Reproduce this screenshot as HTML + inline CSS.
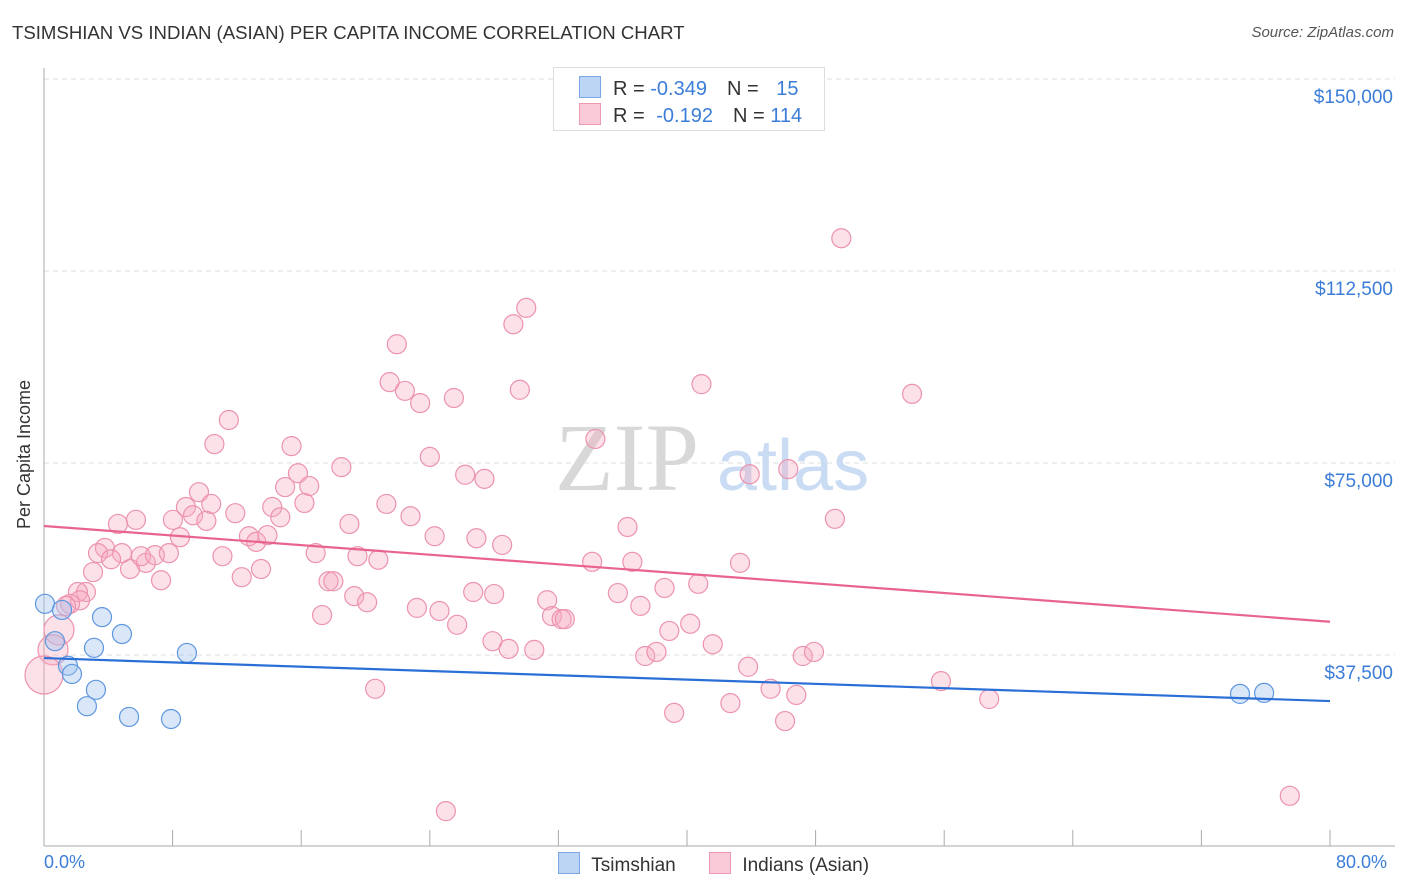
<!DOCTYPE html>
<html><head><meta charset="utf-8"><style>
body{margin:0;background:#fff;font-family:"Liberation Sans",sans-serif;}
#wrap{position:relative;width:1406px;height:892px;overflow:hidden;}
.t{position:absolute;white-space:nowrap;}
</style></head><body>
<div id="wrap">
<div class="t" style="left:12px;top:22px;font-size:18.6px;color:#333;">TSIMSHIAN VS INDIAN (ASIAN) PER CAPITA INCOME CORRELATION CHART</div>
<div class="t" style="right:12px;top:24px;font-size:15px;color:#555;font-style:italic;">Source: ZipAtlas.com</div>
<svg id="svg" width="1406" height="892" style="position:absolute;left:0;top:0"></svg>
</div>
<script>
const xTickVals=[0,8,16,24,32,40,48,56,64,72,80];
const yTickVals=[37.5,75,112.5,150];
const yTickLabels=["$37,500","$75,000","$112,500","$150,000"];
const blueX=[0.06,1.12,0.68,1.49,1.74,3.61,4.85,3.11,3.23,2.67,5.29,7.90,8.89,74.4,75.9];
const blueY=[47.5,46.3,40.2,35.4,33.8,44.9,41.6,38.9,30.7,27.5,25.4,25.0,37.9,29.9,30.1];
const pinkX=[49.6,30.0,29.2,21.95,21.5,22.45,23.4,25.5,29.6,40.9,54.0,11.5,10.6,15.4,24.0,34.3,18.5,15.8,26.2,27.4,43.9,46.3,9.64,16.5,15.0,8.83,10.4,9.27,10.1,11.9,14.2,16.2,21.3,22.8,19.0,14.7,8.02,5.72,4.60,8.46,12.75,13.2,13.9,24.3,26.9,28.5,36.3,49.2,3.79,3.36,4.85,4.17,5.35,3.05,6.34,6.03,6.90,7.77,11.1,13.5,16.9,19.5,20.8,34.1,36.6,43.3,7.28,12.3,17.7,18.0,38.6,40.7,2.61,2.11,2.24,1.62,1.37,19.3,20.1,26.7,28.0,31.3,35.7,37.1,23.2,24.6,17.3,25.7,31.6,32.2,32.4,40.2,38.9,27.9,28.9,30.5,41.6,37.4,38.1,47.2,47.9,43.8,45.2,46.8,20.6,55.8,58.8,39.2,42.7,46.1,25.0,77.5,0.93,0.56,0.0];
const pinkY=[118.9,105.3,102.1,98.2,90.8,89.1,86.7,87.7,89.3,90.4,88.5,83.4,78.7,78.3,76.2,79.7,74.2,73.0,72.7,71.9,72.8,73.8,69.3,70.5,70.3,66.4,67.0,64.8,63.7,65.2,66.4,67.2,67.0,64.6,63.1,64.4,63.9,63.9,63.1,60.5,60.7,59.6,60.9,60.7,60.3,59.0,62.5,64.1,58.4,57.4,57.4,56.2,54.3,53.7,55.5,56.8,57.0,57.4,56.8,54.3,57.4,56.8,56.1,55.7,55.7,55.5,52.1,52.7,51.9,51.9,50.6,51.4,49.8,49.8,48.2,47.5,47.1,49.0,47.8,49.8,49.4,48.2,49.6,47.1,46.7,46.1,45.3,43.4,45.1,44.5,44.5,43.6,42.2,40.2,38.7,38.5,39.6,37.3,38.1,37.3,38.1,35.2,30.9,29.7,30.9,32.4,28.9,26.2,28.1,24.6,7.0,10.0,42.4,38.5,33.6];
const pinkSize=pinkX.map((v,i)=>i>=112?(i===114?19:15):9.5);
const trendX=[0,80];
const blueTrend=[36.9,28.5];
const pinkTrend=[62.7,44.0];

const X0=44,X1=1330,YB=847,PX=192/37.5;
const sx=v=>X0+(X1-X0)*v/80;
const sy=v=>YB-v*PX;
const svg=document.getElementById('svg');
const NS='http://www.w3.org/2000/svg';
function mk(tag,at){const e=document.createElementNS(NS,tag);for(const k in at)e.setAttribute(k,at[k]);svg.appendChild(e);return e;}
yTickVals.forEach((v,i)=>{
 const g=mk('line',{x1:X0,x2:1395,y1:sy(v),y2:sy(v),stroke:'#ddd','stroke-dasharray':'5,4'});
 
 
 const t=mk('text',{x:1393,y:sy(v)+24,'text-anchor':'end','font-size':19,fill:'#3b7dd8','font-family':'Liberation Sans'});
 t.textContent=yTickLabels[i];
 
 
});
const ax=mk('line',{x1:X0,x2:X0,y1:68,y2:846,stroke:'#aaa'});


const bx=mk('line',{x1:X0,x2:1395,y1:846,y2:846,stroke:'#aaa'});


xTickVals.forEach(v=>{
 const l=mk('line',{x1:sx(v),x2:sx(v),y1:830,y2:846,stroke:'#aaa'});
 
 
});
const wm=mk('text',{x:555,y:490,'font-size':96,fill:'#d8d8d8','font-family':'Liberation Serif'});
wm.textContent='ZIP';


const wm2=mk('text',{x:717,y:490,'font-size':72,fill:'#c9dcf3','font-family':'Liberation Sans'});
wm2.textContent='atlas';


pinkX.forEach((v,i)=>{
 const c=mk('circle',{cx:sx(v),cy:sy(pinkY[i]),r:pinkSize[i],fill:'rgba(246,170,193,0.35)',stroke:'#ec93ae','stroke-width':1.2});
 
 
});
blueX.forEach((v,i)=>{
 const c=mk('circle',{cx:sx(v),cy:sy(blueY[i]),r:9.5,fill:'rgba(160,195,240,0.4)',stroke:'#5f97df','stroke-width':1.2});
 
 
});
const pl=mk('line',{x1:sx(trendX[0]),x2:sx(trendX[1]),y1:sy(pinkTrend[0]),y2:sy(pinkTrend[1]),stroke:'#e8648f','stroke-width':2.2});


const bl=mk('line',{x1:sx(trendX[0]),x2:sx(trendX[1]),y1:sy(blueTrend[0]),y2:sy(blueTrend[1]),stroke:'#2a6fd6','stroke-width':2.2});


</script>
<div class="t" style="left:-50px;top:444px;font-size:18px;color:#333;transform:rotate(-90deg);">Per Capita Income</div>
<div class="t" style="left:44px;top:852px;font-size:18px;color:#3b7dd8;">0.0%</div>
<div class="t" style="left:1336px;top:852px;font-size:18px;color:#3b7dd8;">80.0%</div>
<div style="position:absolute;left:553px;top:67px;width:270px;height:62px;border:1px solid #ddd;background:#fff;font-size:20px;color:#333;">
 <div style="position:absolute;left:25px;top:8px;white-space:nowrap;"><span style="display:inline-block;width:20px;height:20px;background:#bcd5f5;border:1px solid #7aa8e6;vertical-align:-3px;"></span><span style="margin-left:12px;">R = </span><span style="color:#3b7dd8">-0.349</span><span style="margin-left:20px;">N = </span><span style="color:#3b7dd8;margin-left:12px;">15</span></div>
 <div style="position:absolute;left:25px;top:35px;white-space:nowrap;"><span style="display:inline-block;width:20px;height:20px;background:#f9cbd8;border:1px solid #ec9ab2;vertical-align:-3px;"></span><span style="margin-left:12px;">R = </span><span style="color:#3b7dd8;margin-left:6px;">-0.192</span><span style="margin-left:20px;">N = </span><span style="color:#3b7dd8">114</span></div>
</div>
<div style="position:absolute;left:558px;top:852px;font-size:19px;color:#333;white-space:nowrap;">
 <span><span style="display:inline-block;width:20px;height:20px;background:#bcd5f5;border:1px solid #7aa8e6;vertical-align:-3px;"></span> <span style="margin-left:6px;">Tsimshian</span></span>
 <span style="margin-left:28px;"><span style="display:inline-block;width:20px;height:20px;background:#f9cbd8;border:1px solid #ec9ab2;vertical-align:-3px;"></span> <span style="margin-left:6px;">Indians (Asian)</span></span>
</div>
</body></html>
